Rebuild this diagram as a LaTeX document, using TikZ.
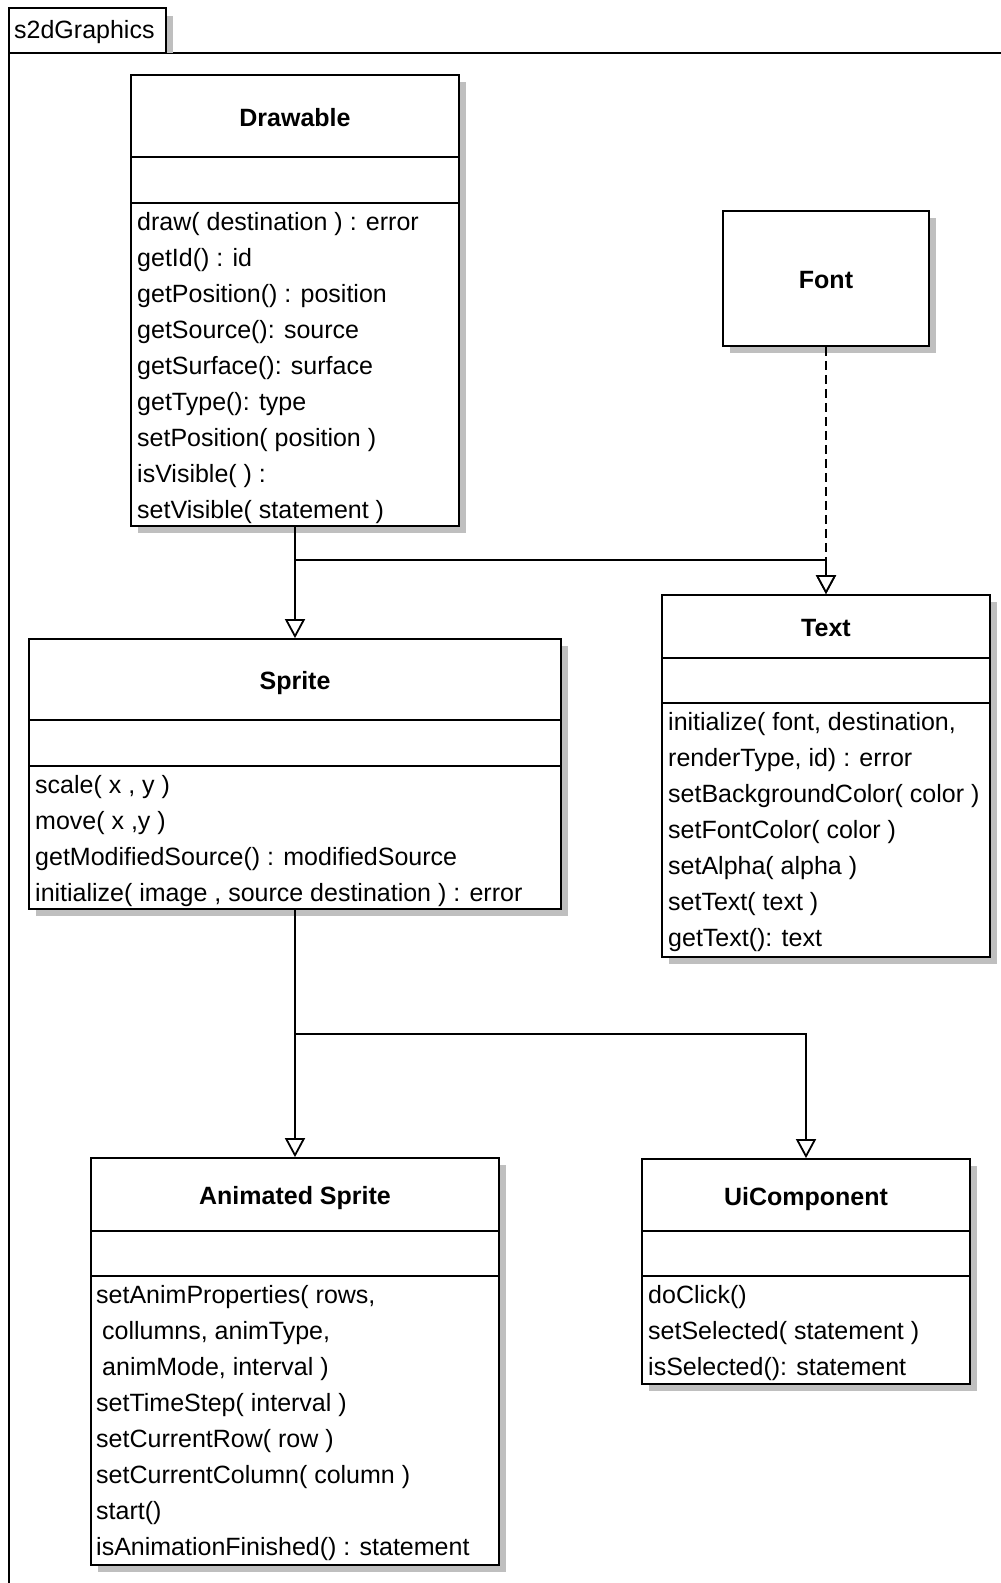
\documentclass[tikz,border=0pt]{standalone}
\usepackage{fontspec}
\setmainfont{Liberation Sans}
\usetikzlibrary{arrows.meta,shadows}

\newcommand{\memberfont}{\fontsize{25}{30}\selectfont}

\tikzset{
  outline/.style={draw=black, line width=1.8pt},
  shadowfill/.style={fill=black!25},
  classbox/.style={outline, fill=white, inner sep=0pt,
    drop shadow={shadow xshift=7pt, shadow yshift=-7pt, fill=black!25, opacity=1}},
  rule/.style={line width=1.8pt},
  classtitle/.style={font=\memberfont\bfseries, anchor=base, inner sep=0pt},
  member/.style={font=\memberfont, anchor=base west, inner sep=0pt},
  gen/.style={line width=1.8pt, -{Triangle[width=20pt,length=19pt,fill=white]}},
  dep/.style={line width=1.8pt, dash pattern=on 9pt off 5pt,
    -{Triangle[width=20pt,length=19pt,fill=white]}},
}

% class box with two compartment rules: name, x1, y1, x2, y2, rule1, rule2
\newcommand{\umlclass}[7]{%
  \node[classbox, minimum width={(#4-#2)*1pt}, minimum height={(#5-#3)*1pt}]
    (#1) at ({(#2+#4)/2},{(#3+#5)/2}) {};
  \draw[rule] (#2,#6) -- (#4,#6);
  \draw[rule] (#2,#7) -- (#4,#7);
}

\begin{document}
\begin{tikzpicture}[x=1pt,y=-1pt]
\useasboundingbox (0,0) rectangle (1001,1583);
\fill[white] (0,0) rectangle (1001,1583);

% package frame and its tab
\draw[outline] (1001,53) -- (9,53) -- (9,1583);
\fill[shadowfill] (166,16) rectangle (173,53);
\node[outline, fill=white, inner sep=0pt, minimum width=157pt, minimum height=45pt]
  (pkgtab) at (87.5,30.5) {};
\node[member] (pkglabel) at (14,38) {s2dGraphics};

% bends of the generalization buses
\coordinate (busA) at (295,560);
\coordinate (busB) at (295,1034);

% ---------- classes ----------
% Drawable
\umlclass{drawable}{131}{75}{459}{526}{157}{203}
\node[classtitle] (drawable-title) at (295,126) {Drawable};
\node[member] (drawable-m1) at (137,230) {draw( destination ) : error};
\node[member] (drawable-m2) at (137,266) {getId() : id};
\node[member] (drawable-m3) at (137,302) {getPosition() : position};
\node[member] (drawable-m4) at (137,338) {getSource(): source};
\node[member] (drawable-m5) at (137,374) {getSurface(): surface};
\node[member] (drawable-m6) at (137,410) {getType(): type};
\node[member] (drawable-m7) at (137,446) {setPosition( position )};
\node[member] (drawable-m8) at (137,482) {isVisible( ) :};
\node[member] (drawable-m9) at (137,518) {setVisible( statement )};

% Font
\node[classbox, minimum width=206pt, minimum height=135pt] (font) at (826,278.5) {};
\node[classtitle] (font-title) at (826,288.5) {Font};

% Text
\umlclass{text}{662}{595}{990}{957}{658}{703}
\node[classtitle] (text-title) at (826,636.5) {Text};
\node[member] (text-m1) at (668,730) {initialize( font, destination,};
\node[member] (text-m2) at (668,766) {renderType, id) : error};
\node[member] (text-m3) at (668,802) {setBackgroundColor( color )};
\node[member] (text-m4) at (668,838) {setFontColor( color )};
\node[member] (text-m5) at (668,874) {setAlpha( alpha )};
\node[member] (text-m6) at (668,910) {setText( text )};
\node[member] (text-m7) at (668,946) {getText(): text};

% Sprite
\umlclass{sprite}{29}{639}{561}{909}{720}{766}
\node[classtitle] (sprite-title) at (295,689.5) {Sprite};
\node[member] (sprite-m1) at (35,793) {scale( x , y )};
\node[member] (sprite-m2) at (35,829) {move( x ,y )};
\node[member] (sprite-m3) at (35,865) {getModifiedSource() : modifiedSource};
\node[member] (sprite-m4) at (35,901) {initialize( image , source destination ) : error};

% AnimatedSprite
\umlclass{animsprite}{91}{1158}{499}{1565}{1231}{1276}
\node[classtitle] (animsprite-title) at (295,1204.5) {Animated Sprite};
\node[member] (animsprite-m1) at (96,1303) {setAnimProperties( rows,};
\node[member] (animsprite-m2) at (96,1339) {\hspace{6pt}collumns, animType,};
\node[member] (animsprite-m3) at (96,1375) {\hspace{6pt}animMode, interval )};
\node[member] (animsprite-m4) at (96,1411) {setTimeStep( interval )};
\node[member] (animsprite-m5) at (96,1447) {setCurrentRow( row )};
\node[member] (animsprite-m6) at (96,1483) {setCurrentColumn( column )};
\node[member] (animsprite-m7) at (96,1519) {start()};
\node[member] (animsprite-m8) at (96,1555) {isAnimationFinished() : statement};

% UiComponent
\umlclass{uicomp}{642}{1159}{970}{1384}{1231}{1276}
\node[classtitle] (uicomp-title) at (806,1205) {UiComponent};
\node[member] (uicomp-m1) at (648,1303) {doClick()};
\node[member] (uicomp-m2) at (648,1339) {setSelected( statement )};
\node[member] (uicomp-m3) at (648,1375) {isSelected(): statement};

% ---------- relations ----------
\draw[dep] (font.south) -- (text.north);
\draw[gen] (drawable.south) -- (sprite.north);
\draw[gen] (busA) -| (text.north);
\draw[gen] (sprite.south) -- (animsprite.north);
\draw[gen] (busB) -| (uicomp.north);
\end{tikzpicture}
\end{document}
